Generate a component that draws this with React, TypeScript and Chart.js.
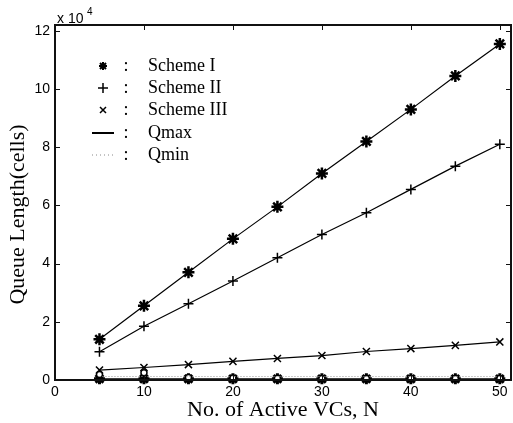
import React, { useEffect, useRef } from "react";
import { Chart, registerables } from "chart.js";

Chart.register(...registerables);

const activeVCs = [5, 10, 15, 20, 25, 30, 35, 40, 45, 50];
const schemeI = [14000, 25500, 37000, 48500, 59500, 71000, 82000, 93000, 104500, 115500];
const schemeII = [9700, 18500, 26200, 34000, 42000, 50000, 57500, 65500, 73500, 81000];
const schemeIII = [3400, 4300, 5300, 6400, 7400, 8400, 9800, 10800, 11900, 13100];
const qminI = [400, 400, 400, 400, 400, 400, 400, 400, 400, 400];
const qminII = [1900, 2500, 900, 700, 600, 500, 500, 500, 500, 500];
const qminDotted = [1200, 1200, 1200, 1200, 1200, 1200, 1200, 1200, 1200, 1200];
const yTicks = [0, 20000, 40000, 60000, 80000, 100000, 120000];
const xTicks = [0, 10, 20, 30, 40, 50];
const legendItems = [
  { label: "Scheme I", kind: "star" },
  { label: "Scheme II", kind: "cross" },
  { label: "Scheme III", kind: "x" },
  { label: "Qmax", kind: "solid" },
  { label: "Qmin", kind: "dotted" },
];

const pts = (vals: number[]) => activeVCs.map((x, i) => ({ x, y: vals[i] }));

const overlay = {
  id: "overlay",
  afterDraw(chart: any) {
    const ctx = chart.ctx;
    const a = chart.chartArea;
    const xs = chart.scales.x;
    const ys = chart.scales.y;
    ctx.save();
    ctx.setLineDash([]);
    ctx.fillStyle = "#111";
    const L = Math.round(a.left), R = Math.min(Math.round(a.right), 511), T = Math.round(a.top), B = Math.round(a.bottom);
    ctx.fillRect(L - 1, T - 1, R - L + 2, 2);
    ctx.fillRect(L - 1, B - 1, R - L + 2, 2);
    ctx.fillRect(L - 1, T - 1, 2, B - T + 2);
    ctx.fillRect(R - 1, T - 1, 2, B - T + 2);
    const tl = 5;
    xTicks.forEach((v) => {
      const px = Math.round(xs.getPixelForValue(v));
      ctx.fillRect(px, B - tl, 1, tl);
      ctx.fillRect(px, T, 1, tl);
    });
    yTicks.forEach((v) => {
      const py = Math.round(ys.getPixelForValue(v));
      ctx.fillRect(L, py, tl, 1);
      ctx.fillRect(R - tl, py, tl, 1);
    });

    ctx.fillStyle = "#000";
    ctx.font = "14px 'Liberation Sans'";
    ctx.textAlign = "left";
    ctx.textBaseline = "alphabetic";
    ctx.fillText("x 10", L + 2, T - 2);
    ctx.font = "10px 'Liberation Sans'";
    ctx.fillText("4", L + 32, T - 10);

    ctx.font = "22px 'Liberation Serif'";
    ctx.textAlign = "center";
    ctx.textBaseline = "middle";
    ctx.fillText("No. of Active VCs, N", (L + R) / 2, 410);
    ctx.save();
    ctx.translate(18, (T + B) / 2 + 12);
    ctx.rotate(-Math.PI / 2);
    ctx.fillText("Queue Length(cells)", 0, 0);
    ctx.restore();

    const mx = 103;
    const rows = [66, 88, 110, 133, 155];
    legendItems.forEach((it, i) => {
      const y = rows[i];
      ctx.strokeStyle = "#000";
      ctx.lineWidth = 1.5;
      ctx.setLineDash([]);
      ctx.beginPath();
      const r = 4;
      if (it.kind === "star") {
        ctx.lineWidth = 2;
        ctx.moveTo(mx - r, y); ctx.lineTo(mx + r, y);
        ctx.moveTo(mx, y - r); ctx.lineTo(mx, y + r);
        ctx.moveTo(mx - 3, y - 3); ctx.lineTo(mx + 3, y + 3);
        ctx.moveTo(mx - 3, y + 3); ctx.lineTo(mx + 3, y - 3);
      } else if (it.kind === "cross") {
        ctx.moveTo(mx - r - 1, y); ctx.lineTo(mx + r + 1, y);
        ctx.moveTo(mx, y - r - 1); ctx.lineTo(mx, y + r + 1);
      } else if (it.kind === "x") {
        ctx.moveTo(mx - 3, y - 3); ctx.lineTo(mx + 3, y + 3);
        ctx.moveTo(mx - 3, y + 3); ctx.lineTo(mx + 3, y - 3);
      } else if (it.kind === "solid") {
        ctx.lineWidth = 2;
        ctx.moveTo(mx - 11, y); ctx.lineTo(mx + 11, y);
      } else {
        ctx.strokeStyle = "#888";
        ctx.lineWidth = 1;
        ctx.setLineDash([1, 3]);
        ctx.moveTo(mx - 11, y); ctx.lineTo(mx + 11, y);
      }
      ctx.stroke();
      ctx.setLineDash([]);
      ctx.fillStyle = "#000";
      ctx.font = "18px 'Liberation Serif'";
      ctx.textAlign = "center";
      ctx.textBaseline = "middle";
      ctx.fillText(":", 126, y);
      ctx.textAlign = "left";
      ctx.fillText(it.label, 148, y);
    });
    ctx.restore();
  },
};

export default function App() {
  const ref = useRef<HTMLCanvasElement | null>(null);
  useEffect(() => {
    if (!ref.current) return;
    const base = {
      borderColor: "#000",
      pointBorderColor: "#000",
      pointBackgroundColor: "#000",
      borderWidth: 1.2,
      pointRadius: 5,
      pointBorderWidth: 2,
      showLine: true,
      clip: false,
    };
    const chart = new Chart(ref.current, {
      type: "scatter",
      data: {
        datasets: [
          { ...base, label: "Scheme I Qmin dotted", data: pts(qminDotted), pointRadius: 0, borderColor: "#999", borderDash: [1, 2], borderWidth: 1 },
          { ...base, label: "Scheme II Qmin", data: pts(qminII), pointStyle: "circle", pointRadius: 3, pointBorderWidth: 1.5, pointBackgroundColor: "#fff", showLine: false },
          { ...base, label: "Scheme I Qmin", data: pts(qminI), pointStyle: "star", pointBorderWidth: 3, pointRadius: 5.5 },
          { ...base, label: "Scheme I", data: pts(schemeI), pointStyle: "star", pointBorderWidth: 2.5, pointRadius: 6 },
          { ...base, label: "Scheme II", data: pts(schemeII), pointStyle: "cross", pointBorderWidth: 1.5 },
          { ...base, label: "Scheme III", data: pts(schemeIII), pointStyle: "crossRot", pointBorderWidth: 1.5 },
        ],
      },
      options: {
        animation: false,
        responsive: false,
        maintainAspectRatio: false,
        layout: { padding: { top: 25, right: 0, left: 0, bottom: 0 } },
        plugins: { legend: { display: false }, tooltip: { enabled: false } },
        scales: {
          x: {
            type: "linear",
            min: 0,
            max: 51.2,
            grid: { display: false, drawTicks: false },
            border: { display: false },
            afterFit: (s: any) => { s.height = 43; },
            afterBuildTicks: (s: any) => { s.ticks = xTicks.map((v) => ({ value: v })); },
            ticks: { color: "#000", font: { family: "'Liberation Sans'", size: 14 }, padding: 4, maxRotation: 0 },
          },
          y: {
            type: "linear",
            min: 0,
            max: 122000,
            grid: { display: false, drawTicks: false },
            border: { display: false },
            afterFit: (s: any) => { s.width = 55; },
            afterBuildTicks: (s: any) => { s.ticks = yTicks.map((v) => ({ value: v })); },
            ticks: {
              color: "#000",
              font: { family: "'Liberation Sans'", size: 14 },
              padding: 5,
              callback: (v: any) => String(Number(v) / 10000),
            },
          },
        },
      },
      plugins: [overlay],
    } as any);
    return () => chart.destroy();
  }, []);
  return (
    <div style={{ position: "fixed", left: 0, top: 0, width: 513, height: 423, overflow: "hidden", background: "#fff" }}>
      <canvas ref={ref} width={519} height={423} style={{ width: 519, height: 423, display: "block" }} />
    </div>
  );
}
